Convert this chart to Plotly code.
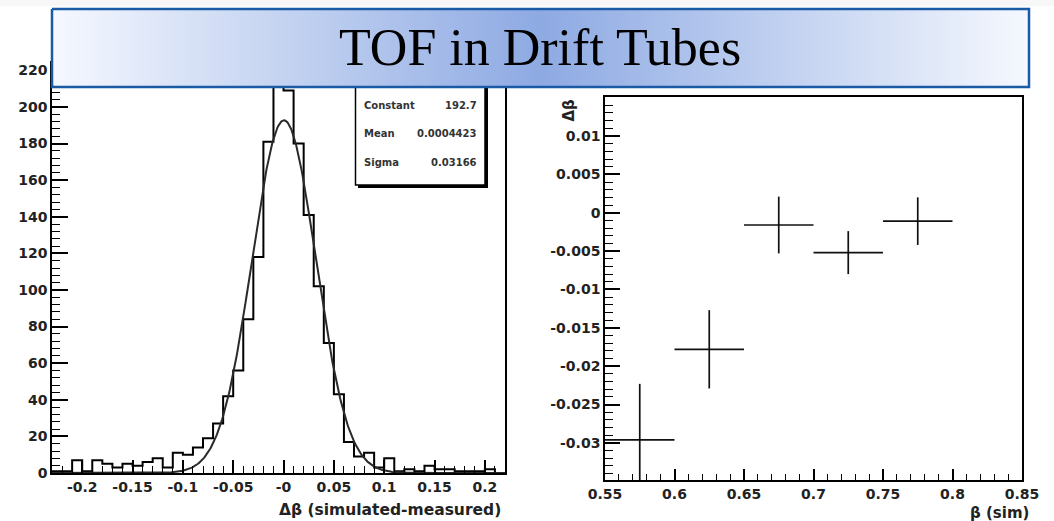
import numpy as np
import plotly.graph_objects as go

W, H = 1054, 521

# ---- left panel: delta-beta histogram with gaussian fit ----
bin_lo = -0.23
bin_width = 0.01
counts = [1, 1, 7, 1, 7, 5, 3, 5, 4, 6, 8, 3, 11, 10, 14, 19, 27, 42, 56, 84,
          118, 181, 213, 209, 180, 141, 102, 71, 43, 17, 9, 11, 3, 8, 1, 2, 1,
          4, 2, 2, 1, 1, 1, 2, 0]
fit_constant = 192.7
fit_mean = 0.0004423
fit_sigma = 0.03166

hist_xticks = [-0.2, -0.15, -0.1, -0.05, 0.0, 0.05, 0.1, 0.15, 0.2]
hist_xtext = ["-0.2", "-0.15", "-0.1", "-0.05", "-0", "0.05", "0.1", "0.15", "0.2"]

# ---- right panel: delta-beta vs simulated beta ----
beta_sim = [0.575, 0.625, 0.675, 0.725, 0.775]
beta_halfwidth = [0.025, 0.025, 0.025, 0.025, 0.025]
dbeta = [-0.0296, -0.0178, -0.0016, -0.0052, -0.0011]
dbeta_err = [0.0073, 0.0051, 0.0037, 0.0028, 0.0031]

prof_xticks = [0.55, 0.6, 0.65, 0.7, 0.75, 0.8, 0.85]
prof_xtext = ["0.55", "0.6", "0.65", "0.7", "0.75", "0.8", "0.85"]
prof_yticks = [-0.03, -0.025, -0.02, -0.015, -0.01, -0.005, 0.0, 0.005, 0.01]
prof_ytext = ["-0.03", "-0.025", "-0.02", "-0.015", "-0.01", "-0.005", "0", "0.005", "0.01"]

stat_names = ["Constant", "Mean", "Sigma"]
stat_values = ["192.7", "0.0004423", "0.03166"]

title_text = "TOF in Drift Tubes"


def px_x(x):
    return x / W


def px_y(y):
    return 1 - y / H


edges = bin_lo + bin_width * np.arange(len(counts) + 1)
step_y = list(counts) + [counts[-1]]

fit_x = np.linspace(edges[0], edges[-1], 600)
fit_y = fit_constant * np.exp(-0.5 * ((fit_x - fit_mean) / fit_sigma) ** 2)

fig = go.Figure()

fig.add_trace(go.Scatter(
    x=edges, y=step_y, mode="lines", line_shape="hv",
    line=dict(color="black", width=2), xaxis="x", yaxis="y",
    showlegend=False, hoverinfo="skip"))
fig.add_trace(go.Scatter(
    x=fit_x, y=fit_y, mode="lines",
    line=dict(color="#2a2a2a", width=2), xaxis="x", yaxis="y",
    showlegend=False, hoverinfo="skip"))

fig.add_trace(go.Scatter(
    x=beta_sim, y=dbeta, mode="markers",
    marker=dict(size=1, color="black"),
    error_x=dict(type="data", array=beta_halfwidth, width=0, thickness=1.7, color="#111111"),
    error_y=dict(type="data", array=dbeta_err, width=0, thickness=1.7, color="#111111"),
    xaxis="x2", yaxis="y2", showlegend=False, hoverinfo="skip"))

# ---- overlay layer in pixel units: stats box and title banner ----
def rect(x0, y0, x1, y1):
    return [x0, x1, x1, x0, x0], [y0, y0, y1, y1, y0]

# faint slide texture strip along the top edge
rx, ry = rect(0, 0, W, 6)
fig.add_trace(go.Scatter(x=rx, y=ry, fill="toself", fillcolor="rgba(0,0,0,0.03)",
                         line=dict(width=0), mode="lines", xaxis="x3", yaxis="y3",
                         showlegend=False, hoverinfo="skip"))

# stats box shadow + box
rx, ry = rect(358, 70, 488, 188)
fig.add_trace(go.Scatter(x=rx, y=ry, fill="toself", fillcolor="black",
                         line=dict(width=0), mode="lines", xaxis="x3", yaxis="y3",
                         showlegend=False, hoverinfo="skip"))
rx, ry = rect(355.5, 67, 485, 185)
fig.add_trace(go.Scatter(x=rx, y=ry, fill="toself", fillcolor="white",
                         line=dict(color="black", width=1.5), mode="lines",
                         xaxis="x3", yaxis="y3", showlegend=False, hoverinfo="skip"))

# title banner with horizontal gradient
rx, ry = rect(52, 9, 1029, 87)
fig.add_trace(go.Scatter(
    x=rx, y=ry, fill="toself",
    fillgradient=dict(type="horizontal",
                      colorscale=[[0, "#f5f8fe"], [0.5, "#8eaae3"], [1, "#f5f8fe"]]),
    line=dict(color="#1b5aa5", width=2.5), mode="lines",
    xaxis="x3", yaxis="y3", showlegend=False, hoverinfo="skip"))

annotations = [
    dict(x=540, y=47, xref="x3", yref="y3", text=title_text, showarrow=False,
         xanchor="center", yanchor="middle",
         font=dict(family="Liberation Serif", size=52, color="black")),
    dict(x=503, y=510, xref="x3", yref="y3", text="Δβ (simulated-measured)",
         showarrow=False, xanchor="right", yanchor="middle",
         font=dict(family="DejaVu Sans", size=15.5, color="#222222", weight="bold")),
    dict(x=1031, y=513, xref="x3", yref="y3", text="β (sim)",
         showarrow=False, xanchor="right", yanchor="middle",
         font=dict(family="DejaVu Sans", size=15, color="#222222", weight="bold")),
    dict(x=568, y=97, xref="x3", yref="y3", text="Δβ", textangle=-90,
         showarrow=False, xanchor="center", yanchor="top",
         font=dict(family="DejaVu Sans", size=15, color="#222222", weight="bold")),
]
row_y = [105, 133, 162]
for name, val, yy in zip(stat_names, stat_values, row_y):
    annotations.append(dict(x=362, y=yy, xref="x3", yref="y3", text=name,
                            showarrow=False, xanchor="left", yanchor="middle",
                            font=dict(family="DejaVu Sans", size=10,
                                      color="#333333", weight="bold")))
    annotations.append(dict(x=479, y=yy, xref="x3", yref="y3", text=val,
                            showarrow=False, xanchor="right", yanchor="middle",
                            font=dict(family="DejaVu Sans", size=10,
                                      color="#333333", weight="bold")))

tickfont = dict(family="DejaVu Sans", size=14, color="#222222", weight="bold")
common = dict(showline=True, linecolor="black", linewidth=1.6, mirror=True,
              ticks="inside", tickcolor="black", tickwidth=1.5, automargin=False,
              showgrid=False, zeroline=False, tickfont=tickfont, fixedrange=True)

fig.update_layout(
    template="none",
    width=W, height=H, autosize=False,
    margin=dict(l=0, r=0, t=0, b=0, pad=0),
    paper_bgcolor="white", plot_bgcolor="rgba(0,0,0,0)",
    showlegend=False,
    xaxis=dict(domain=[px_x(52), px_x(505)], range=[edges[0], edges[-1]],
               anchor="y", tickmode="array", tickvals=hist_xticks, ticktext=hist_xtext,
               ticklen=13,
               minor=dict(ticks="inside", ticklen=7, dtick=0.01, tick0=0,
                          tickcolor="black", tickwidth=1.3),
               **common),
    yaxis=dict(domain=[px_y(473), px_y(63)], range=[0, 224], anchor="x",
               tickmode="linear", tick0=0, dtick=20, ticklen=16,
               minor=dict(ticks="inside", ticklen=8, dtick=4, tick0=0,
                          tickcolor="black", tickwidth=1.3),
               **common),
    xaxis2=dict(domain=[px_x(605), px_x(1022)], range=[0.55, 0.85], anchor="y2",
                tickmode="array", tickvals=prof_xticks, ticktext=prof_xtext,
                ticklen=11,
                minor=dict(ticks="inside", ticklen=6, dtick=0.01, tick0=0.55,
                           tickcolor="black", tickwidth=1.3),
                **common),
    yaxis2=dict(domain=[px_y(480), px_y(97)], range=[-0.03483, 0.01508], anchor="x2",
                tickmode="array", tickvals=prof_yticks, ticktext=prof_ytext,
                ticklen=15,
                minor=dict(ticks="inside", ticklen=8, dtick=0.001, tick0=0,
                           tickcolor="black", tickwidth=1.3),
                **common),
    xaxis3=dict(domain=[0, 1], range=[0, W], anchor="y3", visible=False,
                automargin=False, fixedrange=True, showgrid=False, zeroline=False),
    yaxis3=dict(domain=[0, 1], range=[H, 0], anchor="x3", visible=False,
                automargin=False, fixedrange=True, showgrid=False, zeroline=False),
    annotations=annotations,
)

fig.write_html("out.html")
